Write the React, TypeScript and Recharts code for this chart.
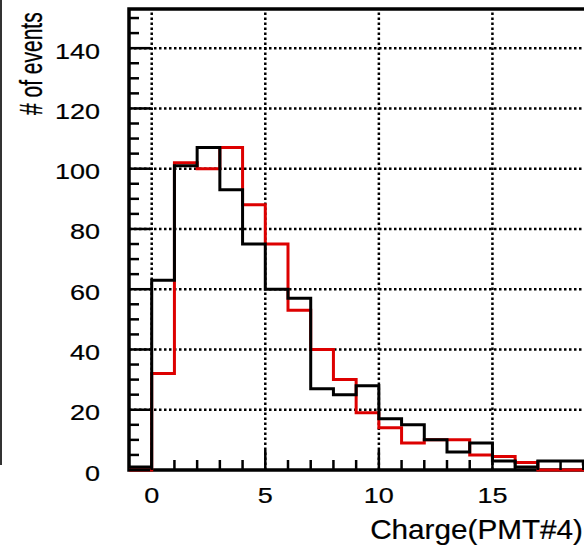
import {
  LineChart,
  Line,
  XAxis,
  YAxis,
  ReferenceLine,
  ReferenceArea,
} from "recharts";

// bin low edges, width 1
const binStarts = [-1, 0, 1, 2, 3, 4, 5, 6, 7, 8, 9, 10, 11, 12, 13, 14, 15, 16, 17, 18, 19];
const blackCounts = [1, 63, 101, 107, 93, 75, 60, 57, 27, 25, 28, 17, 15, 10, 6, 9, 3, 1, 3, 3, 2];
const redCounts = [0, 32, 102, 100, 107, 88, 75, 53, 40, 30, 19, 14, 9, 10, 10, 5, 4.5, 2.5, 0, 0, 0];

const xTicks = [0, 1, 2, 3, 4, 5, 6, 7, 8, 9, 10, 11, 12, 13, 14, 15, 16, 17, 18, 19];
const yTicks = [0, 5, 10, 15, 20, 25, 30, 35, 40, 45, 50, 55, 60, 65, 70, 75, 80, 85, 90, 95, 100, 105, 110, 115, 120, 125, 130, 135, 140, 145, 150];
const xGrid = [0, 5, 10, 15];
const yGrid = [20, 40, 60, 80, 100, 120, 140];

const xTitle = "Charge(PMT#4)";
const yTitle = "# of events";

const FONT = "'Liberation Sans', Arial, Helvetica, sans-serif";

// last point closes the final step
const histData = [
  ...binStarts.map((x, i) => ({ x, black: blackCounts[i], red: redCounts[i] })),
  {
    x: binStarts[binStarts.length - 1] + 1,
    black: blackCounts[blackCounts.length - 1],
    red: redCounts[redCounts.length - 1],
  },
];

const textStyle = {
  fontFamily: FONT,
  fill: "#000",
  stroke: "#000",
  strokeWidth: 0.2,
};

const XTick = ({ x = 0, y = 0, payload }: any) => {
  const v = payload?.value ?? 0;
  const major = v % 5 === 0;
  return (
    <g>
      <line x1={x} x2={x} y1={y} y2={y - (major ? 20 : 10)} stroke="#000" strokeWidth={2.5} />
      {major && (
        <text
          transform={`translate(${x},${y + 33}) scale(1.2,1)`}
          textAnchor="middle"
          fontSize={22.5}
          style={textStyle}
        >
          {v}
        </text>
      )}
    </g>
  );
};

const YTick = ({ x = 0, y = 0, payload }: any) => {
  const v = payload?.value ?? 0;
  const major = v % 20 === 0;
  return (
    <g>
      <line x1={x} x2={x + (major ? 21 : 10)} y1={y} y2={y} stroke="#000" strokeWidth={2.5} />
      {major && (
        <text
          transform={`translate(${x - 29},${y + 10.5}) scale(1.2,1)`}
          textAnchor="end"
          fontSize={22.5}
          style={textStyle}
        >
          {v}
        </text>
      )}
    </g>
  );
};

export default function App() {
  return (
    <div
      style={{
        position: "absolute",
        left: 0,
        top: 0,
        width: 584,
        height: 551,
        overflow: "hidden",
        background: "#fff",
      }}
    >
      <div
        style={{
          position: "absolute",
          left: 0,
          top: 0,
          width: 2,
          height: 465,
          background: "#333",
        }}
      />
      <LineChart
        width={620}
        height={551}
        data={histData}
        margin={{ top: 9, right: 14, bottom: 51, left: 69 }}
      >
        <XAxis
          type="number"
          dataKey="x"
          domain={[-1, 20]}
          ticks={xTicks}
          interval={0}
          axisLine={false}
          tickLine={false}
          tickSize={0}
          tickMargin={0}
          height={30}
          tick={<XTick />}
        />
        <YAxis
          type="number"
          domain={[0, 153]}
          ticks={yTicks}
          interval={0}
          axisLine={false}
          tickLine={false}
          tickSize={0}
          tickMargin={0}
          width={60}
          tick={<YTick />}
        />
        {xGrid.map((v) => (
          <ReferenceLine key={`gx${v}`} x={v} stroke="#000" strokeWidth={2.5} strokeDasharray="2.5 2.5" />
        ))}
        {yGrid.map((v) => (
          <ReferenceLine key={`gy${v}`} y={v} stroke="#000" strokeWidth={2.5} strokeDasharray="2.5 2.5" />
        ))}
        <Line
          type="stepAfter"
          dataKey="red"
          stroke="#dd0000"
          strokeWidth={3}
          dot={false}
          isAnimationActive={false}
        />
        <Line
          type="stepAfter"
          dataKey="black"
          stroke="#000"
          strokeWidth={3}
          dot={false}
          isAnimationActive={false}
        />
        <ReferenceArea x1={-1} x2={20} y1={0} y2={153} fill="none" stroke="#000" strokeWidth={3.5} />
      </LineChart>
      <svg
        width={584}
        height={551}
        style={{ position: "absolute", left: 0, top: 0, pointerEvents: "none" }}
      >
        <text
          transform="translate(583,539) scale(1.1,1)"
          textAnchor="end"
          fontSize={27}
          style={textStyle}
        >
          {xTitle}
        </text>
        <text
          transform="translate(42,115) scale(1.45,1) rotate(-90)"
          textAnchor="start"
          fontSize={21}
          style={textStyle}
        >
          {yTitle}
        </text>
      </svg>
    </div>
  );
}
